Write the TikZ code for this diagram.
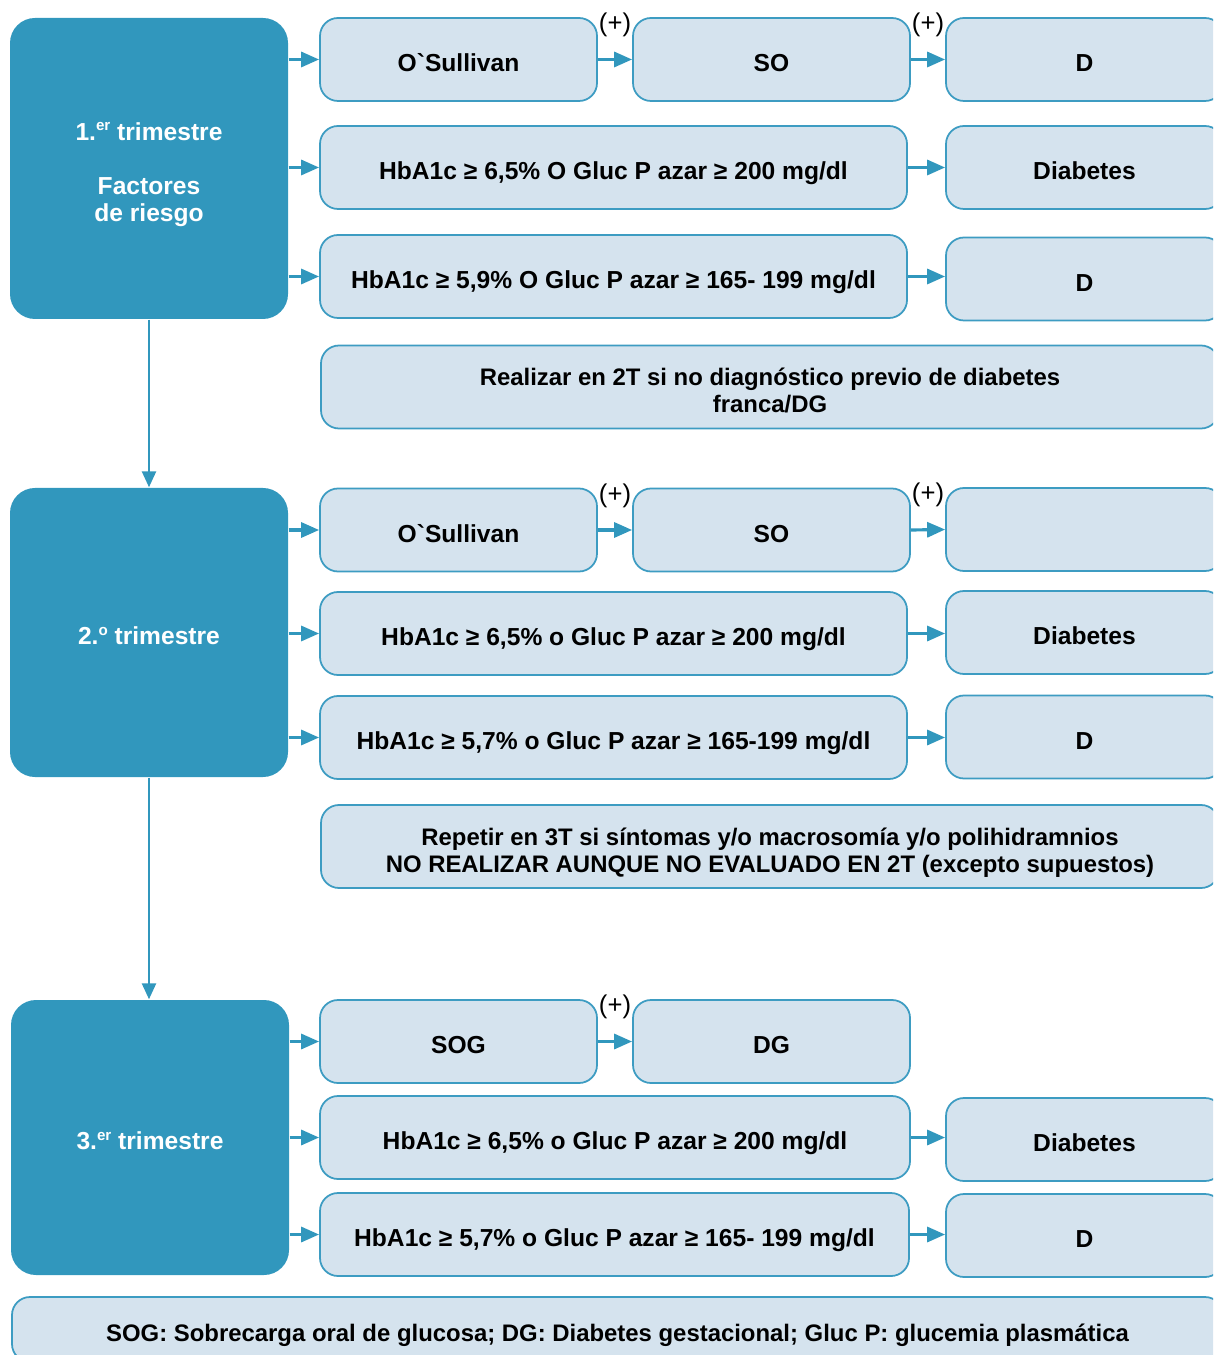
\documentclass[tikz,border=0pt]{standalone}
\usepackage{fontspec}
\setmainfont{Liberation Sans}
\usetikzlibrary{positioning,arrows.meta}
\definecolor{trimblue}{HTML}{3197BD}
\definecolor{celledge}{HTML}{3D9CC2}
\definecolor{cellfill}{HTML}{D5E3EE}
\newcommand{\boxfont}{\fontsize{7}{7.7}\selectfont\bfseries}
\newcommand{\ordsup}[1]{\raisebox{0.38em}{\fontsize{4.3}{4.3}\selectfont #1}}
\tikzset{
  trim/.style={fill=trimblue,text=white,rounded corners=2.5mm,font=\boxfont,
    align=center,minimum width=2.78cm,inner sep=0pt,text height=7pt,text depth=0pt},
  cell/.style={draw=celledge,line width=0.5pt,fill=cellfill,rounded corners=1.8mm,
    font=\boxfont,align=center,minimum height=0.83cm,minimum width=2.77cm,inner sep=0pt,
    text height=7pt,text depth=0pt},
  wide/.style={cell,minimum width=5.87cm},
  note/.style={cell,minimum width=8.98cm,text height=14.7pt,
    font=\fontsize{6.8}{7.7}\selectfont\bfseries},
  flow/.style={-{Triangle[length=1.8mm,width=1.5mm]},draw=trimblue,line width=0.9pt},
  down/.style={-{Triangle[length=1.6mm,width=1.4mm]},draw=trimblue,line width=0.7pt},
  plus/.style={font=\fontsize{7.3}{7.7}\selectfont,inner sep=0pt,above=2.1mm},
}

\begin{document}
\begin{tikzpicture}
  \clip (0,0) rectangle (12.13,-13.55);
  % trimestres
  \node[trim,minimum height=3.01cm,text height=30.1pt] (t1) at (1.49,-1.685)
    {1.\ordsup{er} trimestre\\[7.7pt]Factores\\de riesgo};
  \node[trim,minimum height=2.89cm] (t2) at (1.49,-6.325) {2.\ordsup{o} trimestre};
  \node[trim,minimum height=2.75cm] (t3) at (1.50,-11.375) {3.\ordsup{er} trimestre};
  \draw[down] (t1.south) -- (t1.south |- t2.north);
  \draw[down] (t2.south) -- (t2.south |- t3.north);

  % 1er trimestre
  \node[cell] (os1) at (4.585,-0.595) {O\textasciigrave Sullivan};
  \node[cell] (so1) at (7.715,-0.595) {SO};
  \node[cell] (d1) at (10.845,-0.595) {D};
  \node[wide] (ha1) at (6.135,-1.675) {HbA1c ≥ 6,5\% O Gluc P azar ≥ 200 mg/dl};
  \node[cell] (dia1) at (10.845,-1.675) {Diabetes};
  \node[wide] (hb1) at (6.135,-2.765) {HbA1c ≥ 5,9\% O Gluc P azar ≥ 165- 199 mg/dl};
  \node[cell] (dd1) at (10.845,-2.79) {D};
  \node[note] (n1) at (7.70,-3.87)
    {Realizar en 2T si no diagnóstico previo de diabetes\\franca/DG};
  \draw[flow] (t1.east |- os1) -- (os1.west);
  \draw[flow] (t1.east |- ha1) -- (ha1.west);
  \draw[flow] (t1.east |- hb1) -- (hb1.west);
  \draw[flow] (os1.east) -- (so1.west) node[midway,plus]{(+)};
  \draw[flow] (so1.east) -- (d1.west) node[midway,plus]{(+)};
  \draw[flow] (ha1.east) -- (ha1.east -| dia1.west);
  \draw[flow] (hb1.east) -- (hb1.east -| dd1.west);

  % 2o trimestre
  \node[cell] (os2) at (4.585,-5.30) {O\textasciigrave Sullivan};
  \node[cell] (so2) at (7.715,-5.30) {SO};
  \node[cell] (e2) at (10.845,-5.295) {};
  \node[wide] (ha2) at (6.135,-6.335) {HbA1c ≥ 6,5\% o Gluc P azar ≥ 200 mg/dl};
  \node[cell] (dia2) at (10.845,-6.325) {Diabetes};
  \node[wide] (hb2) at (6.135,-7.375) {HbA1c ≥ 5,7\% o Gluc P azar ≥ 165-199 mg/dl};
  \node[cell] (dd2) at (10.845,-7.37) {D};
  \node[note] (n2) at (7.70,-8.465)
    {Repetir en 3T si síntomas y/o macrosomía y/o polihidramnios\\
     NO REALIZAR AUNQUE NO EVALUADO EN 2T (excepto supuestos)};
  \draw[flow] (t2.east |- os2) -- (os2.west);
  \draw[flow] (t2.east |- ha2) -- (ha2.west);
  \draw[flow] (t2.east |- hb2) -- (hb2.west);
  \draw[flow] (os2.east) -- (so2.west) node[midway,plus]{(+)};
  \draw[flow] (so2.east) -- (e2.west) node[midway,plus]{(+)};
  \draw[flow] (ha2.east) -- (ha2.east -| dia2.west);
  \draw[flow] (hb2.east) -- (hb2.east -| dd2.west);

  % 3er trimestre
  \node[cell] (sog) at (4.585,-10.415) {SOG};
  \node[cell] (dg) at (7.715,-10.415) {DG};
  \node[wide,minimum width=5.90cm] (ha3) at (6.15,-11.375) {HbA1c ≥ 6,5\% o Gluc P azar ≥ 200 mg/dl};
  \node[cell] (dia3) at (10.845,-11.395) {Diabetes};
  \node[wide,minimum width=5.89cm] (hb3) at (6.145,-12.345) {HbA1c ≥ 5,7\% o Gluc P azar ≥ 165- 199 mg/dl};
  \node[cell] (dd3) at (10.845,-12.355) {D};
  \draw[flow] (t3.east |- sog) -- (sog.west);
  \draw[flow] (t3.east |- ha3) -- (ha3.west);
  \draw[flow] (t3.east |- hb3) -- (hb3.west);
  \draw[flow] (sog.east) -- (dg.west) node[midway,plus]{(+)};
  \draw[flow] (ha3.east) -- (ha3.east -| dia3.west);
  \draw[flow] (hb3.east) -- (hb3.east -| dd3.west);

  % abreviaturas
  \node[cell,minimum width=12.11cm,minimum height=0.65cm,
    font=\fontsize{6.8}{7.7}\selectfont\bfseries] (key) at (6.175,-13.295)
    {SOG: Sobrecarga oral de glucosa; DG: Diabetes gestacional; Gluc P: glucemia plasmática};
\end{tikzpicture}
\end{document}
